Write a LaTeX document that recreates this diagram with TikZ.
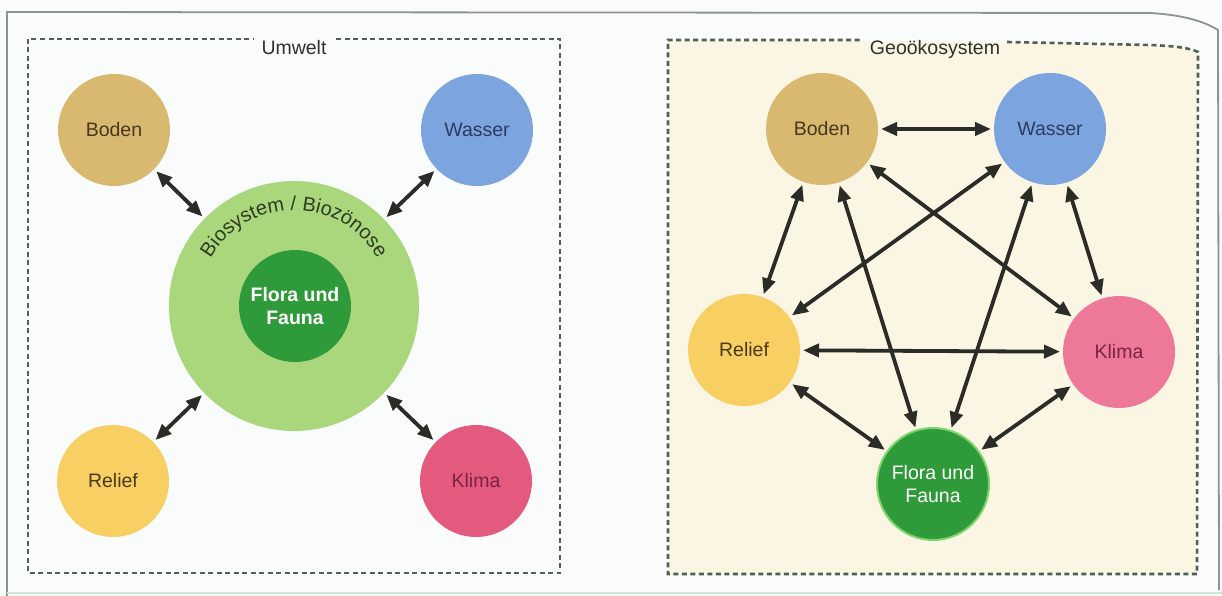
\documentclass[tikz,border=0pt]{standalone}
\usepackage{fontspec}
\setmainfont{Liberation Sans}
\usetikzlibrary{arrows.meta,decorations.text}

\definecolor{pagebg}{HTML}{FAFCFB}
\definecolor{framegray}{HTML}{8A958E}
\definecolor{framegreen}{HTML}{CFE6D2}
\definecolor{dashcol}{HTML}{4F6055}
\definecolor{creambg}{HTML}{FBF5E3}
\definecolor{bodencol}{HTML}{D8B96F}
\definecolor{wassercol}{HTML}{7CA4DE}
\definecolor{reliefcol}{HTML}{F8CF62}
\definecolor{klimacolA}{HTML}{E45A7F}
\definecolor{klimacolB}{HTML}{EE7898}
\definecolor{biocol}{HTML}{AAD77C}
\definecolor{floracol}{HTML}{2F9A3A}
\definecolor{floraedge}{HTML}{7CD66B}
\definecolor{arrowcol}{HTML}{2B2B27}
\definecolor{bodentxt}{HTML}{45381C}
\definecolor{wassertxt}{HTML}{2B3C62}
\definecolor{relieftxt}{HTML}{4A3A14}
\definecolor{klimatxt}{HTML}{7A2242}
\definecolor{labeltxt}{HTML}{2E332E}
\definecolor{biotxt}{HTML}{2F3A22}

\newcommand\lblfont{\fontsize{19.5}{23}\selectfont}

\tikzset{
  sphere/.style={circle, minimum size=112pt, inner sep=0pt, outer sep=0pt,
    font=\lblfont, align=center},
  link/.style={{Triangle[length=16pt,width=13pt]}-{Triangle[length=16pt,width=13pt]},
    line width=3.8pt, draw=arrowcol, shorten <=3pt, shorten >=3pt},
  boxline/.style={draw=dashcol, line width=2.6pt, dash pattern=on 5pt off 3.5pt},
  boxlabel/.style={font=\lblfont, text=labeltxt, inner sep=0pt}
}

\begin{document}
\begin{tikzpicture}[x=1pt,y=1pt]
  % page and frame
  \fill[pagebg] (0,0) rectangle (1222,-596);
  \useasboundingbox (0,0) rectangle (1222,-596);
  \draw[framegray, line width=1.8pt] (7,-596) -- (7,-12) -- (1150,-13)
    .. controls (1185,-15) and (1205,-22) .. (1218,-30) -- (1219,-590);
  \draw[framegreen, line width=1.5pt] (7,-593) -- (1222,-593);

  % left panel: Umwelt
  \draw[boxline] (336,-39) -- (560,-39) -- (560,-573) -- (28,-573) -- (28,-39) -- (253,-39);
  \node[boxlabel] (umwelt) at (294,-48) {Umwelt};

  \node[circle, minimum size=250pt, inner sep=0pt, outer sep=0pt, fill=biocol] (bioL) at (294,-306) {};
  \node[sphere, fill=bodencol, text=bodentxt] (bodenL) at (114,-130) {Boden};
  \node[sphere, fill=wassercol, text=wassertxt] (wasserL) at (477,-130) {Wasser};
  \node[sphere, fill=reliefcol, text=relieftxt] (reliefL) at (113,-481) {Relief};
  \node[sphere, fill=klimacolA, text=klimatxt] (klimaL) at (476,-481) {Klima};
  \node[sphere, fill=floracol, text=white, font=\lblfont\bfseries] (floraL) at (295,-306) {Flora und\\Fauna};

  \path[decorate, decoration={text along path, text align=center,
      text={|\fontsize{20}{20}\selectfont\color{biotxt}|Biosystem / Biozönose}}]
    (bioL.center) ++(153:96) arc[start angle=153, end angle=27, radius=96];

  \draw[link] (bodenL) -- (bioL);
  \draw[link] (wasserL) -- (bioL);
  \draw[link] (reliefL) -- (bioL);
  \draw[link] (klimaL) -- (bioL);

  % right panel: Geoökosystem
  \fill[creambg] (668,-40) -- (1007,-42) -- (1150,-45)
    .. controls (1175,-46) and (1190,-48) .. (1198,-52) -- (1197,-574) -- (668,-574) -- cycle;
  \draw[boxline] (1007,-42) -- (1150,-45)
    .. controls (1175,-46) and (1190,-48) .. (1198,-52) -- (1197,-574) -- (668,-574) -- (668,-40) -- (860,-40);
  \node[boxlabel] (geo) at (935,-49) {Geoökosystem};

  \node[sphere, fill=bodencol, text=bodentxt] (bodenR) at (822,-129) {Boden};
  \node[sphere, fill=wassercol, text=wassertxt] (wasserR) at (1050,-129) {Wasser};
  \node[sphere, fill=reliefcol, text=relieftxt] (reliefR) at (744,-350) {Relief};
  \node[sphere, fill=klimacolB, text=klimatxt] (klimaR) at (1119,-352) {Klima};
  \node[sphere, fill=floracol, draw=floraedge, line width=2pt, text=white] (floraR) at (933,-484) {Flora und\\Fauna};

  \draw[link] (bodenR) -- (wasserR);
  \draw[link] (bodenR) -- (reliefR);
  \draw[link] (bodenR) -- (floraR);
  \draw[link] (bodenR) -- (klimaR);
  \draw[link] (wasserR) -- (reliefR);
  \draw[link] (wasserR) -- (floraR);
  \draw[link] (wasserR) -- (klimaR);
  \draw[link] (reliefR) -- (klimaR);
  \draw[link] (reliefR) -- (floraR);
  \draw[link] (klimaR) -- (floraR);
\end{tikzpicture}
\end{document}
